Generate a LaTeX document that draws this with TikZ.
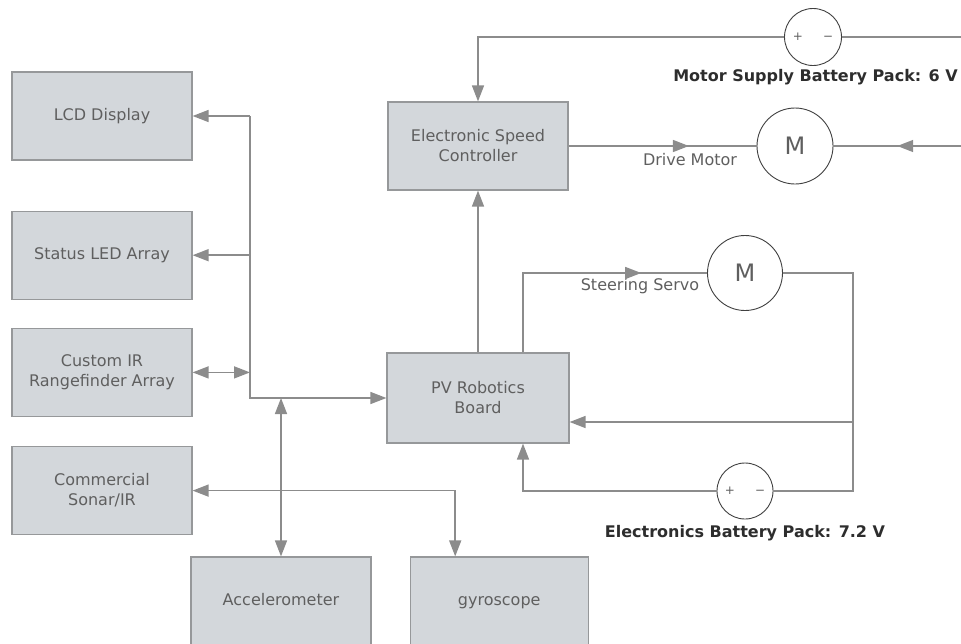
\documentclass[tikz,border=0pt]{standalone}
\usepackage{fontspec}
\setmainfont{DejaVu Sans}
\usetikzlibrary{positioning,arrows.meta,decorations.markings}
\definecolor{boxfill}{RGB}{211,215,219}
\definecolor{boxline}{RGB}{150,152,154}
\definecolor{wirecol}{RGB}{140,140,140}
\definecolor{textcol}{RGB}{95,95,95}
\definecolor{lblcol}{RGB}{45,45,45}

\begin{document}
\begin{tikzpicture}[x=1pt, y=-1pt,
    block/.style={draw=boxline, fill=boxfill, line width=1.2pt, minimum width=180pt, minimum height=88pt, align=center, text=textcol, font=\fontsize{16}{20}\selectfont},
    wire/.style={draw=wirecol, line width=1.5pt},
    arrowend/.style={-{Triangle[length=16pt,width=12pt]}},
    arrowboth/.style={{Triangle[length=16pt,width=12pt]}-{Triangle[length=16pt,width=12pt]}},
    midarrow/.style={postaction={decorate}, decoration={markings, mark=at position #1 with {\arrow{Triangle[length=16pt,width=12pt]}}}},
    motor/.style={draw=black!75, line width=0.9pt, circle, minimum size=76pt, inner sep=0pt, text=textcol, font=\fontsize{24}{24}\selectfont},
    battery/.style={draw=black!75, line width=0.9pt, circle, minimum size=56pt, inner sep=0pt, text=textcol, font=\fontsize{12}{12}\selectfont},
    lbl/.style={inner sep=0pt, text=lblcol, font=\bfseries\fontsize{16}{16}\selectfont},
    wirelbl/.style={inner sep=0pt, text=textcol, font=\fontsize{16}{16}\selectfont}
]
\useasboundingbox (0,0) rectangle (961,643);

% left column
\node[block] (lcd) at (102,116) {LCD Display};
\node[block, below=50pt of lcd] (status) {Status LED Array};
\node[block, below=28pt of status] (ir) {Custom IR\\Rangefinder Array};
\node[block, below=29pt of ir] (sonar) {Commercial\\Sonar/IR};

% sensors at the bottom
\node[block, text height=12pt, text depth=4pt] (acc) at (281,601) {Accelerometer};
\node[block, text height=12pt, text depth=4pt, minimum width=178pt, right=38pt of acc] (gyro) {gyroscope};

% controller and board
\node[block] (esc) at (478,146) {Electronic Speed\\Controller};
\node[block, minimum width=182pt, minimum height=90pt] (pv) at (478,398) {PV Robotics\\Board};

% motors and batteries
\node[motor] (drive) at (795,146) {M};
\node[motor, minimum size=75pt] (servo) at (745,273) {M};
\node[battery, minimum size=57pt] (mbat) at (813,37) {+\hspace{20pt}−};
\node[battery] (ebat) at (745,491) {+\hspace{20pt}−};

\node[lbl, anchor=east] (mlbl) at (958,77) {Motor Supply Battery Pack: 6 V};
\node[lbl, below=6pt of ebat] (elbl) {Electronics Battery Pack: 7.2 V};
\node[wirelbl] (dlbl) at (690,160) {Drive Motor};
\node[wirelbl] (slbl) at (640,286) {Steering Servo};

% bus on the left
\coordinate (bustop) at (250,116);
\coordinate (busbot) at (250,398);
\draw[wire, arrowend] (bustop) -- (busbot) -- (pv.west);
\draw[wire, arrowend] (bustop) -- (lcd.east);
\draw[wire, arrowend] (status.east -| busbot) -- (status.east);
\draw[wire, arrowboth] (ir.east) -- (ir.east -| busbot);
\draw[wire, arrowboth] (acc.north) -- (acc.north |- busbot);
\draw[wire, arrowboth] (sonar.east) -| ([xshift=-44pt]gyro.north);

% motor supply
\coordinate (mright) at (961,37);
\coordinate (dright) at (961,146);
\draw[wire] (mright) -- (mbat.east);
\draw[wire, arrowend] (mbat.west) -| (esc.north);
\draw[wire, midarrow=0.64] (esc.east) -- (drive.west);
\draw[wire, midarrow=0.5] (dright) -- (drive.east);
\draw[wire, arrowend] (pv.north) -- (esc.south);

% steering servo and electronics supply
\coordinate (rc) at (853,422);
\draw[wire, midarrow=0.75] ([xshift=45pt]pv.north) |- (servo.west);
\draw[wire, arrowend] (servo.east) -| (rc) -- (rc -| pv.east);
\draw[wire] (rc) |- (ebat.east);
\draw[wire, arrowend] (ebat.west) -| ([xshift=45pt]pv.south);
\end{tikzpicture}
\end{document}
